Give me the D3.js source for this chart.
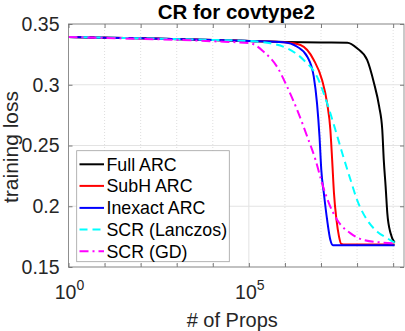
<!DOCTYPE html>
<html>
<head>
<meta charset="utf-8">
<script src="https://cdn.jsdelivr.net/npm/d3@7"></script>
<style>
html,body{margin:0;padding:0;background:#fff;}
svg{display:block;font-family:"Liberation Sans",Arial,Helvetica,sans-serif;}
</style>
</head>
<body>
<svg id="chart" width="405" height="331"></svg>
<script>
const titleText = "CR for covtype2";
const xLabel = "# of Props";
const yLabel = "training loss";
const xDomain = [1, 2e9];
const yDomain = [0.15, 0.35];
const yTicks = [0.15, 0.2, 0.25, 0.3, 0.35];
const yTickLabels = ["0.15", "0.2", "0.25", "0.3", "0.35"];
const xMajorTicks = [1, 1e5];
const xMajorExp = ["0", "5"];
const xMinorTicks = [1e1, 1e2, 1e3, 1e4, 1e6, 1e7, 1e8, 1e9];

const seriesNames = ["Full ARC", "SubH ARC", "Inexact ARC", "SCR (Lanczos)", "SCR (GD)"];
const seriesColors = ["#000000", "#ff0000", "#0000ff", "#00ffff", "#ff00ff"];
const seriesDash = [null, null, null, "8,5", "9,4,2,4"];

const fullProps = [1, 1e2, 1e4, 1e6, 1e7, 5.4e7, 1e8, 1.9e8, 2.95e8, 4.1e8, 5.0e8, 5.5e8, 6.2e8, 6.9e8, 8.5e8, 1.1e9];
const fullLoss  = [0.3393, 0.3382, 0.3369, 0.3352, 0.3348, 0.3346, 0.330, 0.3204, 0.3012, 0.282, 0.2628, 0.238, 0.216, 0.1942, 0.1777, 0.170];

const subhProps = [1, 1e2, 1e4, 1e5, 1e6, 2.7e6, 6.3e6, 1.07e7, 1.48e7, 1.82e7, 2.04e7, 2.29e7, 2.69e7, 3.16e7, 3.63e7, 4.17e7, 1.1e9];
const subhLoss  = [0.3393, 0.3382, 0.3369, 0.336, 0.3350, 0.3327, 0.3204, 0.3039, 0.2847, 0.2628, 0.238, 0.2107, 0.1887, 0.175, 0.169, 0.1685, 0.1685];

const inexProps = [1, 1e2, 1e4, 1e5, 9.1e5, 2.19e6, 4.17e6, 6.3e6, 7.76e6, 9.1e6, 1.02e7, 1.2e7, 1.48e7, 1.82e7, 2.14e7, 1.1e9];
const inexLoss  = [0.3393, 0.3382, 0.3369, 0.336, 0.335, 0.3313, 0.3231, 0.3067, 0.2847, 0.2572, 0.2298, 0.2107, 0.1887, 0.1722, 0.168, 0.168];

const lancProps = [1, 1e2, 1e4, 1e5, 3.98e5, 1.15e6, 3.31e6, 7.76e6, 1.48e7, 2.51e7, 3.89e7, 6.61e7, 1e8, 1.9e8, 3.63e8, 6.92e8, 1.1e9];
const lancLoss  = [0.3393, 0.3382, 0.3369, 0.336, 0.3341, 0.330, 0.3204, 0.3067, 0.2847, 0.2628, 0.2436, 0.2216, 0.2052, 0.1887, 0.1791, 0.1736, 0.170];

const gdProps = [1, 1e2, 1e4, 1.1e5, 2.57e5, 6.03e5, 1.15e6, 2.19e6, 4.17e6, 7.08e6, 1.07e7, 1.66e7, 2.82e7, 6.61e7, 1.55e8, 5.5e8, 1.1e9];
const gdLoss  = [0.3393, 0.3378, 0.3358, 0.3341, 0.3272, 0.3149, 0.2984, 0.2792, 0.2572, 0.238, 0.2189, 0.2024, 0.1887, 0.1777, 0.1722, 0.170, 0.1695];

const seriesProps = [fullProps, subhProps, inexProps, lancProps, gdProps];
const seriesLoss = [fullLoss, subhLoss, inexLoss, lancLoss, gdLoss];

const svg = d3.select("#chart");
const L = 68.5, R = 404, T = 24, B = 267;
const x = d3.scaleLog().domain(xDomain).range([L, R]);
const y = d3.scaleLinear().domain(yDomain).range([B, T]);

svg.append("rect").attr("x", L).attr("y", T).attr("width", R - L).attr("height", B - T).attr("fill", "#fff");

// grid
const grid = svg.append("g");
grid.selectAll("line.minor").data(xMinorTicks).enter().append("line")
  .attr("x1", d => x(d)).attr("x2", d => x(d)).attr("y1", T).attr("y2", B)
  .attr("stroke", "#d6d6d6").attr("stroke-width", 0.8).attr("stroke-dasharray", "1,2");
grid.selectAll("line.xmaj").data(xMajorTicks).enter().append("line")
  .attr("x1", d => x(d)).attr("x2", d => x(d)).attr("y1", T).attr("y2", B)
  .attr("stroke", "#e3e3e3").attr("stroke-width", 1);
grid.selectAll("line.ymaj").data(yTicks).enter().append("line")
  .attr("x1", L).attr("x2", R).attr("y1", d => y(d)).attr("y2", d => y(d))
  .attr("stroke", "#e3e3e3").attr("stroke-width", 1);

// lines
svg.append("clipPath").attr("id", "clip").append("rect")
  .attr("x", L).attr("y", T - 2).attr("width", R - L).attr("height", B - T + 4);
const line = d3.line().x(d => x(d[0])).y(d => y(d[1])).curve(d3.curveMonotoneX);
const lines = svg.append("g").attr("clip-path", "url(#clip)");
seriesNames.forEach((name, i) => {
  const pts = seriesProps[i].map((p, j) => [p, seriesLoss[i][j]]);
  lines.append("path").attr("d", line(pts)).attr("fill", "none")
    .attr("stroke", seriesColors[i]).attr("stroke-width", 2)
    .attr("stroke-dasharray", seriesDash[i]);
});

// axes box
const axCol = "#7a7a7a";
svg.append("rect").attr("x", L).attr("y", T).attr("width", R - L).attr("height", B - T)
  .attr("fill", "none").attr("stroke", axCol).attr("stroke-width", 0.8);

// y ticks (left + right)
const yAxisL = d3.axisLeft(y).tickValues(yTicks).tickSize(-4).tickFormat((d, i) => yTickLabels[i]).tickPadding(9);
const gy = svg.append("g").attr("transform", `translate(${L},0)`).call(yAxisL);
gy.select(".domain").remove();
gy.selectAll("line").attr("stroke", axCol);
gy.selectAll("text").attr("font-size", 19.5).attr("fill", "#262626").attr("font-family", "Liberation Sans, Arial, sans-serif");
const yAxisR = d3.axisRight(y).tickValues(yTicks).tickSize(-4).tickFormat("");
const gyr = svg.append("g").attr("transform", `translate(${R},0)`).call(yAxisR);
gyr.select(".domain").remove();
gyr.selectAll("line").attr("stroke", axCol);

// x ticks bottom + top (all decades)
const allX = xMajorTicks.concat(xMinorTicks);
const xb = d3.axisBottom(x).tickValues(allX).tickSize(-4).tickFormat("");
const gxb = svg.append("g").attr("transform", `translate(0,${B})`).call(xb);
gxb.select(".domain").remove();
gxb.selectAll("line").attr("stroke", axCol);
const xt = d3.axisTop(x).tickValues(allX).tickSize(-4).tickFormat("");
const gxt = svg.append("g").attr("transform", `translate(0,${T})`).call(xt);
gxt.select(".domain").remove();
gxt.selectAll("line").attr("stroke", axCol);

// x tick labels 10^n
xMajorTicks.forEach((v, i) => {
  const t = svg.append("text").attr("x", x(v) + 1).attr("y", 298.5)
    .attr("text-anchor", "middle").attr("font-size", 19.5).attr("fill", "#262626");
  t.append("tspan").text("10");
  t.append("tspan").attr("font-size", 14).attr("dy", -9).text(xMajorExp[i]);
});

// title
svg.append("text").attr("x", (L + R) / 2).attr("y", 18.5).attr("text-anchor", "middle")
  .attr("font-size", 20.5).attr("font-weight", "bold").attr("fill", "#000").text(titleText);

// axis labels
svg.append("text").attr("x", (L + R) / 2 - 4).attr("y", 326.5).attr("text-anchor", "middle")
  .attr("font-size", 20).attr("fill", "#262626").text(xLabel);
svg.append("text").attr("transform", `translate(18,${(T + B) / 2 + 1.5}) rotate(-90)`)
  .attr("text-anchor", "middle").attr("font-size", 21).attr("fill", "#262626").text(yLabel);

// legend
const lg = svg.append("g");
lg.append("rect").attr("x", 76.7).attr("y", 150.7).attr("width", 152.6).attr("height", 111)
  .attr("fill", "#fff").attr("stroke", "#a0a0a0").attr("stroke-width", 0.8);
const rowY = [164.3, 185.9, 207.9, 229.6, 251.2];
seriesNames.forEach((name, i) => {
  lg.append("line").attr("x1", 79.5).attr("x2", 104).attr("y1", rowY[i]).attr("y2", rowY[i])
    .attr("stroke", seriesColors[i]).attr("stroke-width", 2).attr("stroke-dasharray", seriesDash[i]);
  lg.append("text").attr("x", 106.5).attr("y", rowY[i]).attr("dy", "0.36em")
    .attr("font-size", 17.8).attr("fill", "#000").text(name);
});
</script>
</body>
</html>
